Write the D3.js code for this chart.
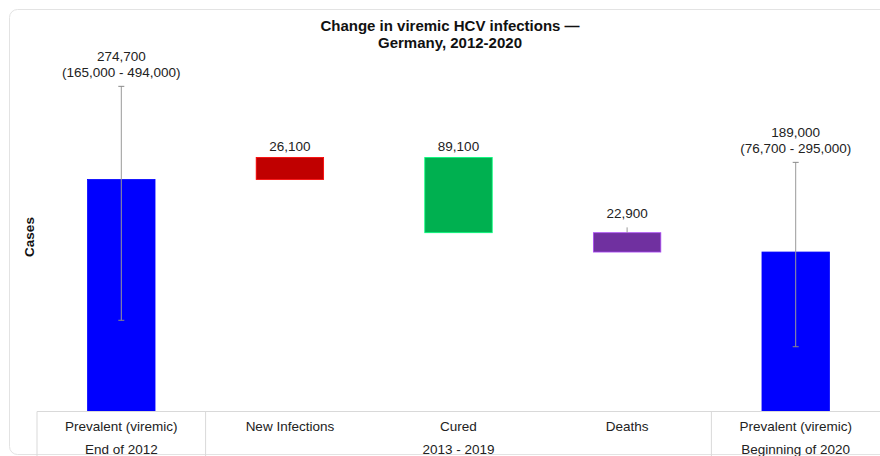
<!DOCTYPE html>
<html>
<head>
<meta charset="utf-8">
<script src="https://cdn.jsdelivr.net/npm/d3@7"></script>
<style>
  body { margin: 0; background: #fff; font-family: "Liberation Sans", Arial, sans-serif; }
  svg { display: block; }
</style>
</head>
<body>
<svg id="chart" width="880" height="456"></svg>
<script>
// Categories and grouping
const categories = ["Prevalent (viremic)", "New Infections", "Cured", "Deaths", "Prevalent (viremic)"];
const groups = [
  { label: "End of 2012", from: 0, to: 0 },
  { label: "2013 - 2019", from: 1, to: 3 },
  { label: "Beginning of 2020", from: 4, to: 4 }
];
// Waterfall values (bar start and end, in cases)
const barStart = [0, 274700, 300800, 211700, 0];
const barEnd = [274700, 300800, 211700, 188800, 188800];
const barColors = ["#0000ff", "#c00000", "#00b050", "#7030a0", "#0000ff"];
// Labels shown above the bars
const valueLabels = [
  ["274,700", "(165,000 - 494,000)"],
  ["26,100"],
  ["89,100"],
  ["22,900"],
  ["189,000", "(76,700 - 295,000)"]
];
// Whisker ends as drawn in the picture (null = no whisker)
const whiskerLow = [108000, null, null, 211700, 76700];
const whiskerHigh = [385000, null, null, 218000, 295000];

const svg = d3.select("#chart");
const width = +svg.attr("width");
const baseY = 411.5;

// card background
svg.append("rect")
  .attr("x", 9.5).attr("y", 9.5)
  .attr("width", 890).attr("height", 445)
  .attr("rx", 8)
  .attr("fill", "#fff")
  .attr("stroke", "#e3e3e3");

const x = d3.scaleBand()
  .domain(d3.range(categories.length))
  .range([37, 880])
  .paddingInner(0.6)
  .paddingOuter(0.3);

const y = d3.scaleLinear()
  .domain([0, 400000])
  .range([baseY, baseY - 400000 / 1184]);

// title
const title = svg.append("text")
  .attr("text-anchor", "middle")
  .attr("font-weight", "bold")
  .attr("font-size", "15px")
  .attr("fill", "#111");
title.append("tspan").attr("x", 450).attr("y", 31).text("Change in viremic HCV infections \u2014");
title.append("tspan").attr("x", 450).attr("y", 48).text("Germany, 2012-2020");

// y axis label
svg.append("text")
  .attr("transform", "translate(34,237) rotate(-90)")
  .attr("text-anchor", "middle")
  .attr("font-weight", "bold")
  .attr("font-size", "13.5px")
  .attr("fill", "#111")
  .text("Cases");

// bars
svg.append("g").selectAll("rect")
  .data(categories)
  .join("rect")
  .attr("x", (d, i) => x(i))
  .attr("width", x.bandwidth())
  .attr("y", (d, i) => y(Math.max(barStart[i], barEnd[i])))
  .attr("height", (d, i) => Math.abs(y(barStart[i]) - y(barEnd[i])))
  .attr("fill", (d, i) => barColors[i])
  .attr("stroke", (d, i) => d3.color(barColors[i]).brighter(1.2))
  .attr("stroke-width", 0.8);

// whiskers
const wg = svg.append("g");
categories.forEach((c, i) => {
  if (whiskerHigh[i] == null) return;
  const cx = x(i) + x.bandwidth() / 2;
  wg.append("line")
    .attr("x1", cx).attr("x2", cx)
    .attr("y1", y(whiskerHigh[i])).attr("y2", y(whiskerLow[i]))
    .attr("stroke", "#999").attr("stroke-width", 1);
  if (whiskerHigh[i] - whiskerLow[i] < 20000) return; // short whisker, no caps
  [whiskerHigh[i], whiskerLow[i]].forEach(v => {
    wg.append("line")
      .attr("x1", cx - 3).attr("x2", cx + 3)
      .attr("y1", y(v)).attr("y2", y(v))
      .attr("stroke", "#888").attr("stroke-width", 1);
  });
});

// value labels
categories.forEach((c, i) => {
  const cx = x(i) + x.bandwidth() / 2;
  const topY = whiskerHigh[i] != null ? y(whiskerHigh[i]) - 14 : y(Math.max(barStart[i], barEnd[i])) - 11;
  const lines = valueLabels[i];
  lines.forEach((t, k) => {
    svg.append("text")
      .attr("x", cx)
      .attr("y", topY - (lines.length - 1 - k) * 16 + 5)
      .attr("text-anchor", "middle")
      .attr("font-size", "13.5px")
      .attr("fill", "#222")
      .text(t);
  });
});

// category table under the bars
const tg = svg.append("g");
tg.append("line")
  .attr("x1", 37).attr("x2", width)
  .attr("y1", baseY).attr("y2", baseY)
  .attr("stroke", "#d9d9d9");
const step = x.step();
groups.forEach(g => {
  const left = x(g.from) - x.paddingInner() * step / 2;
  const right = x(g.to) + x.bandwidth() + x.paddingInner() * step / 2;
  tg.append("line")
    .attr("x1", left).attr("x2", left)
    .attr("y1", baseY).attr("y2", 456)
    .attr("stroke", "#d9d9d9");
  tg.append("text")
    .attr("x", (left + right) / 2)
    .attr("y", 454)
    .attr("text-anchor", "middle")
    .attr("font-size", "13.5px")
    .attr("fill", "#222")
    .text(g.label);
});
categories.forEach((c, i) => {
  tg.append("text")
    .attr("x", x(i) + x.bandwidth() / 2)
    .attr("y", 431)
    .attr("text-anchor", "middle")
    .attr("font-size", "13.5px")
    .attr("fill", "#222")
    .text(c);
});
</script>
</body>
</html>
